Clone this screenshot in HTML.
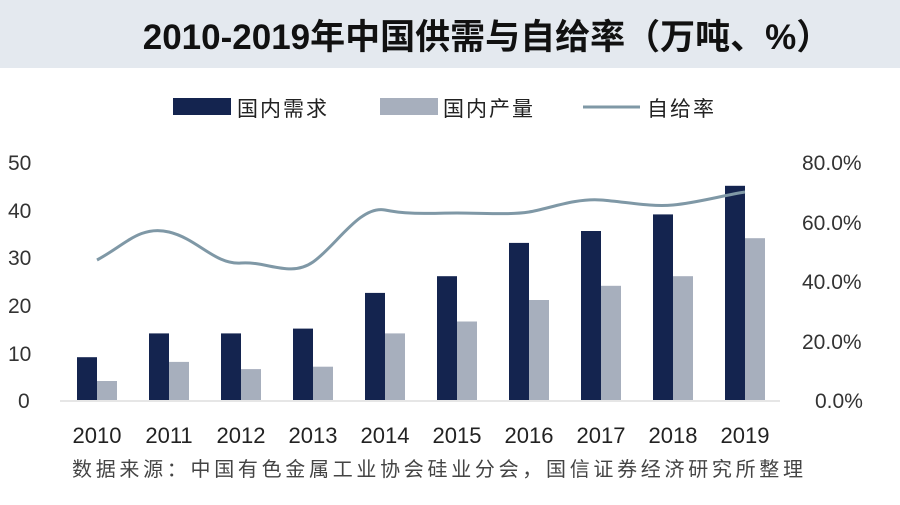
<!DOCTYPE html>
<html><head><meta charset="utf-8"><style>
body{margin:0;width:900px;height:500px;background:#fff;overflow:hidden;font-family:"Liberation Sans","Noto Sans CJK SC",sans-serif}
</style></head><body>
<svg width="900" height="500" xmlns="http://www.w3.org/2000/svg" font-family="Liberation Sans, Noto Sans CJK SC, sans-serif">
<rect x="0" y="0" width="900" height="68" fill="#e4e9ef"/>
<text x="487" y="49" text-anchor="middle" font-size="35" font-weight="bold" fill="#111">2010-2019年中国供需与自给率（万吨、%）</text>
<rect x="173" y="98" width="58" height="17" fill="#14244f"/>
<text x="237" y="116" font-size="21" letter-spacing="2" fill="#222">国内需求</text>
<rect x="380" y="98" width="58" height="17" fill="#a7afbd"/>
<text x="443" y="116" font-size="21" letter-spacing="2" fill="#222">国内产量</text>
<line x1="583" y1="107" x2="640" y2="107" stroke="#7f98a6" stroke-width="3"/>
<text x="647" y="116" font-size="21" letter-spacing="2" fill="#222">自给率</text>
<g font-size="21" fill="#333">
<text x="8" y="170">50</text><text x="8" y="218">40</text><text x="8" y="265">30</text><text x="8" y="313">20</text><text x="8" y="361">10</text><text x="18" y="408">0</text>
<text x="802" y="170">80.0%</text><text x="802" y="230">60.0%</text><text x="802" y="289">40.0%</text><text x="802" y="349">20.0%</text><text x="815" y="408">0.0%</text>
</g>
<line x1="60" y1="401" x2="780" y2="401" stroke="#ddd" stroke-width="1.5"/>
<g fill="#14244f">
<rect x="77" y="357.2" width="20" height="42.8"/>
<rect x="149" y="333.4" width="20" height="66.6"/>
<rect x="221" y="333.4" width="20" height="66.6"/>
<rect x="293" y="328.6" width="20" height="71.4"/>
<rect x="365" y="292.9" width="20" height="107.1"/>
<rect x="437" y="276.2" width="20" height="123.8"/>
<rect x="509" y="242.9" width="20" height="157.1"/>
<rect x="581" y="231" width="20" height="169"/>
<rect x="653" y="214.4" width="20" height="185.6"/>
<rect x="725" y="185.8" width="20" height="214.2"/>
</g>
<g fill="#a7afbd">
<rect x="97" y="381" width="20" height="19"/>
<rect x="169" y="361.9" width="20" height="38.1"/>
<rect x="241" y="369.1" width="20" height="30.9"/>
<rect x="313" y="366.7" width="20" height="33.3"/>
<rect x="385" y="333.4" width="20" height="66.6"/>
<rect x="457" y="321.5" width="20" height="78.5"/>
<rect x="529" y="300" width="20" height="100"/>
<rect x="601" y="285.8" width="20" height="114.2"/>
<rect x="673" y="276.2" width="20" height="123.8"/>
<rect x="745" y="238.2" width="20" height="161.8"/>
</g>
<path d="M97,260 C125,245 140,225 169,232 S215,265 241,263 S290,278 313,262 S360,205 385,210 S430,213 457,213 S510,215 529,212 S575,198 601,200 S650,207 673,205 S725,195 745,192" fill="none" stroke="#7f98a6" stroke-width="3"/>
<g font-size="22" fill="#222" text-anchor="middle">
<text x="97" y="443">2010</text><text x="169" y="443">2011</text><text x="241" y="443">2012</text><text x="313" y="443">2013</text><text x="385" y="443">2014</text><text x="457" y="443">2015</text><text x="529" y="443">2016</text><text x="601" y="443">2017</text><text x="673" y="443">2018</text><text x="745" y="443">2019</text>
</g>
<text x="72" y="476" font-size="20" letter-spacing="3.7" fill="#444">数据来源：中国有色金属工业协会硅业分会，国信证券经济研究所整理</text>
</svg>
</body></html>
